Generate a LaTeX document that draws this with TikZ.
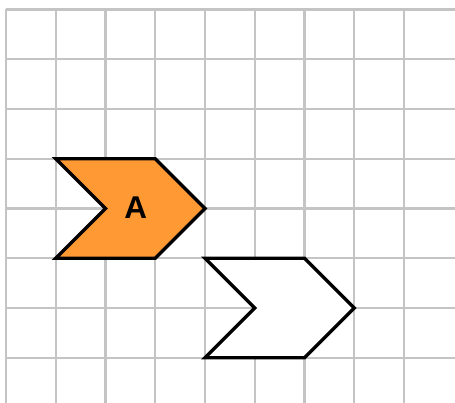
\documentclass[tikz,border=0pt]{standalone}
\usepackage{fontspec}
\setsansfont{Liberation Sans}
\begin{document}
\begin{tikzpicture}[
  gridline/.style={draw={rgb,255:red,196;green,196;blue,196}, line width=1.3pt},
  shapeline/.style={draw=black, line width=1.9pt, line join=miter},
  orangefill/.style={fill={rgb,255:red,255;green,153;blue,51}},
  lbl/.style={font=\sffamily\bfseries\fontsize{18}{21}\selectfont, text=black}
]
\useasboundingbox (0,0) rectangle (9.146,8.1);
% grid coordinates: X = 0.12 + i, Y = 7.91 - j
\foreach \i in {0,...,8} {
  \draw[gridline] (0.12+\i,7.91) -- (0.12+\i,0);
}
\foreach \j in {0,...,7} {
  \draw[gridline] (0.12,7.91-\j) -- (9.146,7.91-\j);
}
% shape A
\draw[shapeline, orangefill] (1.12,4.91) -- (3.12,4.91) -- (4.12,3.91) -- (3.12,2.91) -- (1.12,2.91) -- (2.12,3.91) -- cycle;
\node[lbl] (a) at (2.73,3.93) {A};
% shape B
\draw[shapeline, fill=white] (4.12,2.91) -- (6.12,2.91) -- (7.12,1.91) -- (6.12,0.91) -- (4.12,0.91) -- (5.12,1.91) -- cycle;
\end{tikzpicture}
\end{document}
